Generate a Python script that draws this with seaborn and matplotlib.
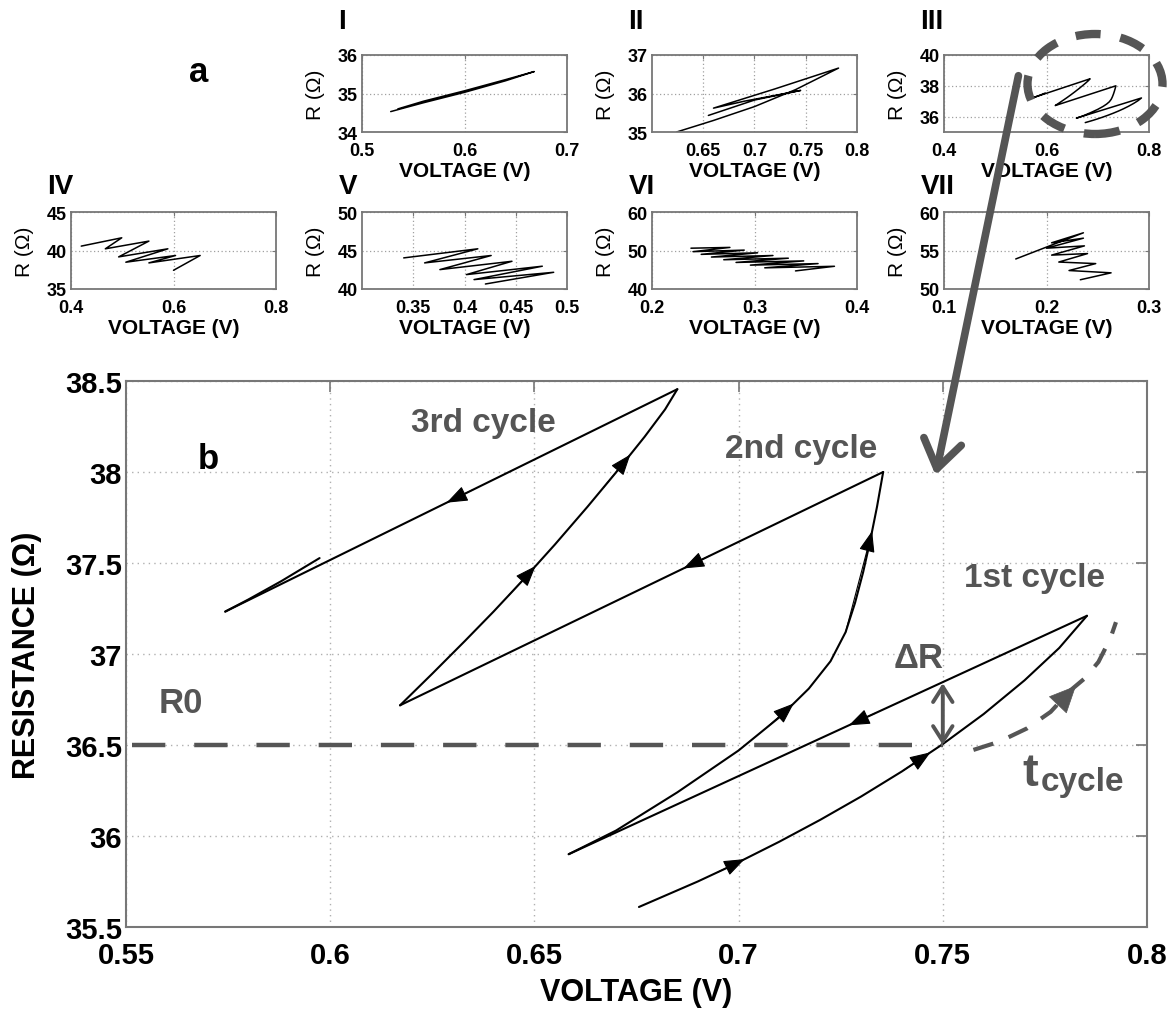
import numpy as np
import matplotlib
matplotlib.use("Agg")
import matplotlib.pyplot as plt
import seaborn as sns
from matplotlib.patches import Ellipse, FancyArrowPatch

# ---------------- main panel (b) data ----------------
c1_up_v = [0.6756, 0.690, 0.6983, 0.710, 0.720, 0.730, 0.740, 0.750, 0.760, 0.770, 0.7785, 0.7853]
c1_up_r = [35.61, 35.75, 35.837, 35.969, 36.089, 36.217, 36.355, 36.505, 36.67, 36.855, 37.033, 37.21]
c1_down_v = [0.7853, 0.6584]
c1_down_r = [37.21, 35.90]
c2_up_v = [0.6584, 0.670, 0.685, 0.700, 0.7104, 0.7172, 0.7225, 0.7262, 0.7285, 0.7305, 0.7322, 0.7339, 0.7354]
c2_up_r = [35.90, 36.03, 36.24, 36.47, 36.66, 36.81, 36.96, 37.12, 37.28, 37.45, 37.62, 37.81, 38.00]
c2_down_v = [0.7354, 0.6171]
c2_down_r = [38.00, 36.718]
c3_up_v = [0.6171, 0.625, 0.633, 0.640, 0.6467, 0.655, 0.663, 0.670, 0.677, 0.682, 0.685]
c3_up_r = [36.718, 36.892, 37.072, 37.233, 37.394, 37.601, 37.809, 37.998, 38.194, 38.344, 38.455]
c3_down_v = [0.685, 0.5743]
c3_down_r = [38.455, 37.233]
c4_up_v = [0.5743, 0.580, 0.588, 0.5974]
c4_up_r = [37.233, 37.30, 37.40, 37.527]

main_xticks = [0.55, 0.6, 0.65, 0.7, 0.75, 0.8]
main_xlabels = ["0.55", "0.6", "0.65", "0.7", "0.75", "0.8"]
main_yticks = [35.5, 36, 36.5, 37, 37.5, 38, 38.5]
main_ylabels = ["35.5", "36", "36.5", "37", "37.5", "38", "38.5"]

r0_v = [0.5515, 0.750]
r0_r = [36.5, 36.5]
dr_v = 0.750
dr_r = [36.50, 36.84]
tcyc_v = [0.7575, 0.7638, 0.7706, 0.7764, 0.7813, 0.7847, 0.7881, 0.7910, 0.7924]
tcyc_r = [36.473, 36.518, 36.591, 36.682, 36.801, 36.865, 36.956, 37.084, 37.175]

arrow_marks = [("c1_up", 0.6990), ("c1_up", 0.7445), ("c1_down", 0.7295),
               ("c2_up", 0.7110), ("c2_up", 0.7302), ("c2_down", 0.6890),
               ("c3_up", 0.6478), ("c3_up", 0.6710), ("c3_down", 0.6310)]

# ---------------- inset (a) data ----------------
I_v = [0.528, 0.56, 0.60, 0.64, 0.668, 0.64, 0.60, 0.56, 0.535]
I_r = [34.53, 34.76, 35.03, 35.33, 35.57, 35.36, 35.07, 34.80, 34.60]
II_v = [0.624, 0.66, 0.70, 0.74, 0.782, 0.72, 0.66, 0.69, 0.72, 0.745, 0.70, 0.655]
II_r = [35.00, 35.30, 35.66, 36.10, 36.66, 36.12, 35.62, 35.80, 35.95, 36.08, 35.83, 35.43]
IV_v = [0.600, 0.652, 0.552, 0.604, 0.507, 0.589, 0.493, 0.552, 0.467, 0.499, 0.420]
IV_r = [37.43, 39.35, 38.39, 39.35, 38.48, 40.22, 39.17, 41.22, 40.22, 41.65, 40.57]
V_v = [0.4204, 0.487, 0.4093, 0.4759, 0.4019, 0.4463, 0.376, 0.426, 0.3611, 0.413, 0.3407]
V_r = [40.65, 42.17, 41.22, 42.96, 41.87, 43.60, 42.52, 44.35, 43.39, 45.22, 44.04]
VI_v = [0.340, 0.378, 0.310, 0.362, 0.296, 0.348, 0.282, 0.333, 0.270, 0.318, 0.258, 0.303,
        0.248, 0.290, 0.240, 0.276, 0.238]
VI_r = [44.7, 45.9, 45.5, 46.6, 46.2, 47.3, 46.9, 48.0, 47.6, 48.7, 48.3, 49.4,
        49.0, 50.1, 49.7, 50.8, 50.6]
VII_v = [0.233, 0.263, 0.222, 0.248, 0.212, 0.240, 0.205, 0.237, 0.200, 0.236, 0.205, 0.236, 0.170]
VII_r = [51.2, 52.1, 52.4, 53.3, 53.5, 54.6, 54.4, 55.6, 55.3, 56.6, 56.0, 57.3, 53.9]

# ---------------- style ----------------
sns.set_theme(style="white")
plt.rcParams["font.family"] = ["Liberation Sans", "DejaVu Sans"]

GRAY = "#555555"
FRAME = "#777777"
W, H = 1174, 1012

fig = plt.figure(figsize=(W / 100, H / 100), dpi=100)


def px_rect(left, top, width, height):
    return [left / W, 1 - (top + height) / H, width / W, height / H]


def draw(ax, v, r, lw, color="black"):
    sns.lineplot(x=v, y=r, sort=False, estimator=None, ax=ax, color=color, linewidth=lw)


# ---------------- main axes ----------------
ax = fig.add_axes(px_rect(126, 382, 1021, 546))
series = {
    "c1_up": (c1_up_v, c1_up_r), "c1_down": (c1_down_v, c1_down_r),
    "c2_up": (c2_up_v, c2_up_r), "c2_down": (c2_down_v, c2_down_r),
    "c3_up": (c3_up_v, c3_up_r), "c3_down": (c3_down_v, c3_down_r),
    "c4_up": (c4_up_v, c4_up_r),
}
for name, (v, r) in series.items():
    draw(ax, v, r, 1.5)

for name, at in arrow_marks:
    v, r = series[name]
    v = np.asarray(v)
    r = np.asarray(r)
    order = np.argsort(v)
    sign = 1 if v[-1] > v[0] else -1
    tip = at + sign * 0.0025
    back = at - sign * 0.004
    ax.annotate("", xy=(tip, np.interp(tip, v[order], r[order])),
                xytext=(back, np.interp(back, v[order], r[order])),
                arrowprops=dict(arrowstyle="-|>,head_length=1.2,head_width=0.45",
                                color="black", lw=0.8, shrinkA=0, shrinkB=0,
                                mutation_scale=11))

# R0 dashed line
ax.plot(r0_v, r0_r, color=GRAY, lw=3.2, dashes=(7.5, 6.5), zorder=3)
ax.text(0.5635, 36.683, "R0", color=GRAY, fontsize=25, fontweight="bold",
        ha="center", va="baseline")
# delta R arrow
ax.annotate("", xy=(dr_v, dr_r[1]), xytext=(dr_v, dr_r[0]),
            arrowprops=dict(arrowstyle="<->,head_length=0.55,head_width=0.35",
                            color=GRAY, lw=2.8, shrinkA=0, shrinkB=0, mutation_scale=20))
ax.text(0.7440, 36.927, "ΔR", color=GRAY, fontsize=25, fontweight="bold",
        ha="center", va="baseline")
# t_cycle arc
ax.plot(tcyc_v, tcyc_r, color=GRAY, lw=3.0, dashes=(5, 4), zorder=3)
ax.annotate("", xy=(0.7826, 36.825), xytext=(0.7775, 36.705),
            arrowprops=dict(arrowstyle="-|>,head_length=1.3,head_width=0.6",
                            color=GRAY, lw=0.5, shrinkA=0, shrinkB=0, mutation_scale=14))
ax.text(0.7696, 36.28, "t", color=GRAY, fontsize=34, fontweight="bold",
        ha="left", va="baseline")
ax.text(0.7741, 36.254, "cycle", color=GRAY, fontsize=24, fontweight="bold",
        ha="left", va="baseline")

ax.text(0.6376, 38.224, "3rd cycle", color=GRAY, fontsize=24, fontweight="bold",
        ha="center", va="baseline")
ax.text(0.7152, 38.08, "2nd cycle", color=GRAY, fontsize=24, fontweight="bold",
        ha="center", va="baseline")
ax.text(0.7725, 37.372, "1st cycle", color=GRAY, fontsize=24, fontweight="bold",
        ha="center", va="baseline")
ax.text(0.5702, 38.024, "b", color="black", fontsize=25, fontweight="bold",
        ha="center", va="baseline")

ax.set_xlim(0.55, 0.8)
ax.set_ylim(35.5, 38.5)
ax.set_xticks(main_xticks)
ax.set_xticklabels(main_xlabels)
ax.set_yticks(main_yticks)
ax.set_yticklabels(main_ylabels)
ax.tick_params(axis="both", direction="in", length=8, width=1.2, color=FRAME,
               top=True, right=True, labelsize=21, labelcolor="black")
ax.tick_params(axis="x", pad=10)
ax.tick_params(axis="y", pad=3)
for lbl in ax.get_xticklabels() + ax.get_yticklabels():
    lbl.set_fontweight("bold")
ax.grid(True, color="#b0b0b0", linestyle=(0, (1, 3)), linewidth=1.0)
for s in ax.spines.values():
    s.set_color(FRAME)
    s.set_linewidth(1.5)
ax.set_xlabel("VOLTAGE (V)", fontsize=22, fontweight="bold", color="black")
ax.set_ylabel("RESISTANCE (Ω)", fontsize=22, fontweight="bold", color="black")
ax.xaxis.set_label_coords(0.5, -0.092)
ax.yaxis.set_label_coords(-0.082, 0.5)

# ---------------- insets ----------------
III_v = c1_up_v + c1_down_v + c2_up_v + c2_down_v + c3_up_v + c3_down_v + c4_up_v
III_r = c1_up_r + c1_down_r + c2_up_r + c2_down_r + c3_up_r + c3_down_r + c4_up_r

col_left = [71, 362, 652, 944]
row_top = [56, 213]
insets = [
    ("I", 1, 0, I_v, I_r, (0.5, 0.7), (34, 36), [0.5, 0.6, 0.7], ["0.5", "0.6", "0.7"], [34, 35, 36], ["34", "35", "36"]),
    ("II", 2, 0, II_v, II_r, (0.6, 0.8), (35, 37), [0.65, 0.7, 0.75, 0.8], ["0.65", "0.7", "0.75", "0.8"], [35, 36, 37], ["35", "36", "37"]),
    ("III", 3, 0, III_v, III_r, (0.4, 0.8), (35, 40), [0.4, 0.6, 0.8], ["0.4", "0.6", "0.8"], [36, 38, 40], ["36", "38", "40"]),
    ("IV", 0, 1, IV_v, IV_r, (0.4, 0.8), (35, 45), [0.4, 0.6, 0.8], ["0.4", "0.6", "0.8"], [35, 40, 45], ["35", "40", "45"]),
    ("V", 1, 1, V_v, V_r, (0.3, 0.5), (40, 50), [0.35, 0.4, 0.45, 0.5], ["0.35", "0.4", "0.45", "0.5"], [40, 45, 50], ["40", "45", "50"]),
    ("VI", 2, 1, VI_v, VI_r, (0.2, 0.4), (40, 60), [0.2, 0.3, 0.4], ["0.2", "0.3", "0.4"], [40, 50, 60], ["40", "50", "60"]),
    ("VII", 3, 1, VII_v, VII_r, (0.1, 0.3), (50, 60), [0.1, 0.2, 0.3], ["0.1", "0.2", "0.3"], [50, 55, 60], ["50", "55", "60"]),
]
for name, col, row, v, r, xl, yl, xt, xtl, yt, ytl in insets:
    iax = fig.add_axes(px_rect(col_left[col], row_top[row], 205, 77))
    draw(iax, v, r, 1.1)
    iax.set_xlim(*xl)
    iax.set_ylim(*yl)
    iax.set_xticks(xt)
    iax.set_xticklabels(xtl)
    iax.set_yticks(yt)
    iax.set_yticklabels(ytl)
    iax.tick_params(direction="in", length=3, width=0.8, color=FRAME, top=True, right=True,
                    labelsize=13, labelcolor="black")
    iax.tick_params(axis="x", pad=7)
    iax.tick_params(axis="y", pad=3)
    for lbl in iax.get_xticklabels() + iax.get_yticklabels():
        lbl.set_fontweight("bold")
    iax.grid(True, color="#a0a0a0", linestyle=(0, (1, 2)), linewidth=0.9)
    for s in iax.spines.values():
        s.set_color(FRAME)
        s.set_linewidth(1.3)
    iax.set_xlabel("VOLTAGE (V)", fontsize=15, fontweight="bold", color="black")
    iax.set_ylabel("R (Ω)", fontsize=15, color="black")
    iax.xaxis.set_label_coords(0.5, -0.38)
    iax.yaxis.set_label_coords(-0.18, 0.5)
    iax.text(-0.115, 1.27 if row == 0 else 1.17, name, transform=iax.transAxes,
             fontsize=20, fontweight="bold", ha="left", va="bottom", color="black")

fig.text(199 / W, 1 - 73 / H, "a", fontsize=25, fontweight="bold", ha="center",
         va="center", color="black")

# dashed ellipse around inset III and the big arrow to the main panel
fig.add_artist(Ellipse((1095 / W, 1 - 85 / H), 135 / W, 100 / H, transform=fig.transFigure,
                       fill=False, edgecolor=GRAY, linewidth=6, linestyle=(0, (3, 2.4)),
                       zorder=10))
fig.add_artist(FancyArrowPatch((1019 / W, 1 - 74 / H), (935 / W, 1 - 479 / H),
                               transform=fig.transFigure,
                               arrowstyle="->,head_length=0.8,head_width=0.55",
                               mutation_scale=25, linewidth=5.5, color=GRAY,
                               capstyle="round", joinstyle="round", zorder=10))

fig.savefig("out.png", dpi=100)
